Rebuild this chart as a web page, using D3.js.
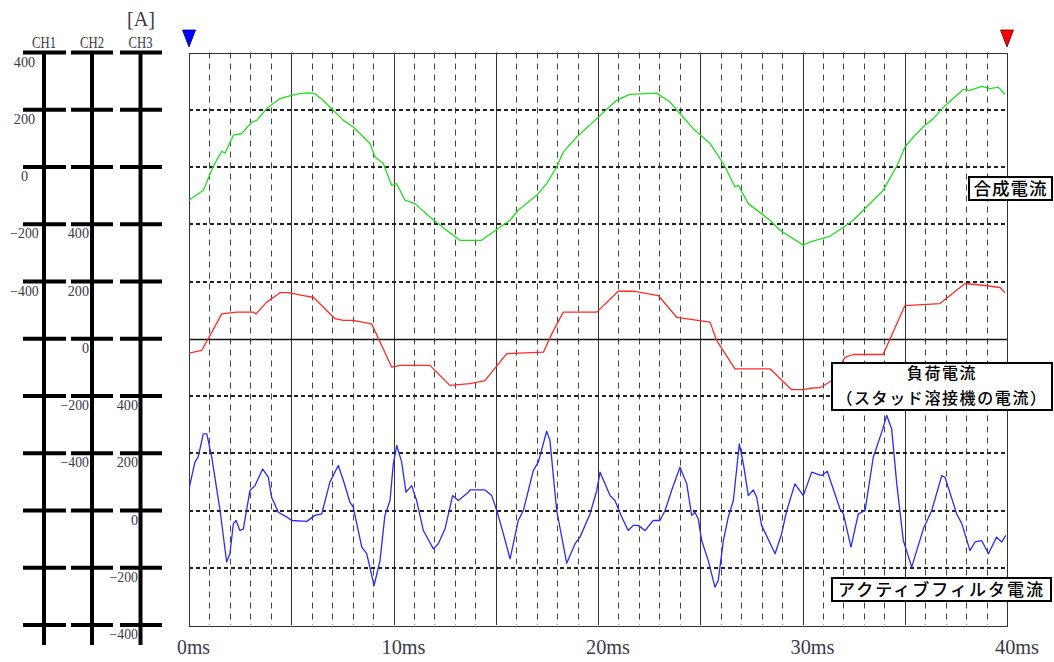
<!DOCTYPE html>
<html lang="ja">
<head>
<meta charset="utf-8">
<title>合成電流・負荷電流・アクティブフィルタ電流</title>
<script src="https://cdn.jsdelivr.net/npm/d3@7"></script>
<style>
  html, body { margin: 0; padding: 0; background: #fff; }
  svg { display: block; }
  .serif { font-family: "Liberation Serif", "DejaVu Serif", serif; fill: #3a3a4a; }
  .jp { font-family: "Noto Sans CJK JP", "Noto Sans", sans-serif; fill: #000; font-weight: 500; }
</style>
</head>
<body>
<svg id="chart" width="1054" height="662"></svg>
<script>
// ---- data ----
const timeTicks = [0, 10, 20, 30, 40];           // ms
const channelNames = ['CH1', 'CH2', 'CH3'];
const ampTicks = [400, 200, 0, -200, -400];       // A

// CH1: composite current [ms, A]
const compositeCurrent = [
  [0, -116], [0.70, -81], [1.19, 3], [1.60, 55], [1.76, 48], [2.17, 111], [2.58, 117],
  [3.07, 157], [3.31, 163], [3.80, 204], [4.45, 239], [5.02, 250], [5.43, 256], [5.80, 259],
  [6.16, 256], [6.56, 233], [7.05, 198], [7.55, 163], [8.03, 140], [8.85, 82], [9.10, 35],
  [9.50, 12], [9.91, -64], [10.15, -58], [10.56, -116], [11.05, -128], [11.78, -175],
  [12.52, -217], [13.25, -256], [14.31, -256], [14.87, -227], [15.70, -186], [16.10, -151],
  [17.00, -99], [17.49, -58], [17.98, 0], [18.30, 52], [18.96, 105], [19.94, 169],
  [20.91, 233], [21.56, 254], [22.87, 258], [23.52, 227], [24.01, 186], [24.66, 134],
  [25.48, 82], [26.13, 12], [26.70, -70], [26.86, -64], [27.35, -128], [28.41, -186],
  [28.90, -221], [30.04, -273], [30.37, -262], [31.34, -242], [32.08, -207], [32.48, -186],
  [32.97, -151], [33.95, -81], [34.61, 3], [35.01, 70], [35.50, 111], [35.99, 146],
  [36.40, 169], [36.89, 209], [37.86, 271], [38.19, 268], [38.76, 282], [39.17, 274],
  [39.57, 279], [39.90, 254]
];

// CH2: load current (stud welder) [ms, A]
const loadCurrent = [
  [0, -50], [0.62, -41], [1.03, 12], [1.60, 87], [2.33, 93], [3.14, 93], [3.28, 87],
  [3.80, 128], [4.45, 161], [4.86, 161], [5.59, 151], [6.08, 145], [7.14, 70], [7.55, 64],
  [8.03, 64], [8.93, 52], [9.91, -99], [10.32, -93], [11.78, -93], [12.76, -163],
  [13.74, -157], [14.47, -146], [15.54, -52], [17.33, -47], [17.74, 17], [18.30, 93],
  [19.94, 93], [20.99, 166], [21.73, 166], [22.95, 151], [23.85, 75], [25.48, 58],
  [25.80, -6], [26.70, -105], [28.41, -105], [29.47, -178], [30.04, -178], [30.37, -173],
  [30.86, -171], [31.44, -146], [32.08, -65], [32.47, -55], [33.94, -55], [35.01, 116],
  [36.72, 123], [37.95, 193], [38.92, 186], [39.66, 179], [39.90, 161]
];

// CH3: active filter current [ms, A]
const filterCurrent = [
  [0, 76], [0.29, 169], [0.45, 187], [0.70, 268], [0.87, 268], [1.11, 187], [1.52, 0],
  [1.84, -180], [2.00, -151], [2.17, -46], [2.30, -35], [2.49, -70], [2.66, -64], [2.98, 70],
  [3.23, 87], [3.60, 145], [3.88, 116], [4.04, 46], [4.37, -6], [4.78, -23], [5.02, -35],
  [5.76, -38], [6.16, -17], [6.49, -12], [6.89, 99], [7.30, 157], [7.55, 105], [7.87, 29],
  [8.03, 12], [8.45, -128], [8.69, -151], [9.05, -262], [9.34, -175], [9.58, -17],
  [9.83, 35], [9.99, 163], [10.16, 227], [10.40, 169], [10.61, 64], [10.89, 87],
  [11.13, 35], [11.46, -70], [11.95, -134], [12.19, -116], [12.52, -64], [12.89, 52],
  [13.17, 35], [13.66, 64], [13.74, 72], [14.47, 72], [14.80, 52], [15.05, 0], [15.37, -81],
  [15.70, -169], [16.10, -35], [16.35, 0], [16.84, 140], [17.08, 169], [17.49, 277],
  [17.65, 244], [17.98, 0], [18.47, -184], [18.88, -116], [19.12, -93], [19.61, -12],
  [19.94, 70], [20.10, 134], [20.59, 52], [20.83, 35], [21.16, -23], [21.48, -70],
  [21.73, -52], [21.97, -52], [22.30, -70], [22.70, -35], [23.03, -35], [23.28, 0],
  [23.60, 70], [24.01, 151], [24.34, 93], [24.58, -17], [24.74, -6], [24.90, -29],
  [25.07, -105], [25.39, -175], [25.72, -268], [25.88, -244], [26.13, -105], [26.37, -23],
  [26.62, 35], [26.91, 233], [27.11, 163], [27.35, 52], [27.59, 72], [27.76, 46],
  [28.00, -52], [28.66, -151], [28.98, -81], [29.23, 0], [29.63, 93], [30.04, 52],
  [30.45, 134], [30.94, 122], [31.21, 137], [31.83, 6], [32.00, -12], [32.37, -128],
  [32.73, -12], [33.06, 0], [33.46, 186], [33.87, 273], [34.12, 332], [34.36, 285],
  [34.61, 93], [34.93, -105], [35.34, -198], [35.91, -64], [36.32, 0], [36.81, 122],
  [36.97, 116], [37.54, -12], [37.79, -46], [38.19, -140], [38.44, -110], [38.76, -105],
  [39.09, -151], [39.49, -93], [39.74, -110], [39.94, -87]
];

// ---- layout ----
const svg = d3.select('#chart');
const plot = { left: 189, right: 1007, top: 52.5, bottom: 625 };
const divisions = 10;           // vertical screen divisions
const ampPerDiv = 200;
const zeroRow = [2, 5, 8];      // division where each channel's 0 A sits

const x = d3.scaleLinear().domain([0, 40]).range([plot.left, plot.right]);
const row = d3.scaleLinear().domain([0, divisions]).range([plot.top, plot.bottom]);
const ampScale = (r) => d3.scaleLinear()
  .domain([r * ampPerDiv, (r - divisions) * ampPerDiv])
  .range([plot.top, plot.bottom]);
const yScales = zeroRow.map(ampScale);

const crisp = v => Math.round(v) + 0.5;

// ---- grid ----
const grid = svg.append('g');

// 1 ms dashed verticals, 5 ms solid ones
d3.range(1, 40).forEach(t => {
  const major = t % 5 === 0;
  grid.append('line')
    .attr('x1', crisp(x(t))).attr('x2', crisp(x(t)))
    .attr('y1', plot.top).attr('y2', plot.bottom)
    .attr('stroke', major ? '#333' : '#444')
    .attr('stroke-width', 1)
    .attr('stroke-dasharray', major ? null : '6,5');
});

// horizontal division lines, CH2 zero line drawn solid
d3.range(1, divisions).forEach(r => {
  const solid = r === 5;
  grid.append('line')
    .attr('x1', plot.left).attr('x2', plot.right)
    .attr('y1', Math.round(row(r)) + (solid ? 0.5 : 0))
    .attr('y2', Math.round(row(r)) + (solid ? 0.5 : 0))
    .attr('stroke', solid ? '#111' : '#222')
    .attr('stroke-width', solid ? 1.5 : 2)
    .attr('stroke-dasharray', solid ? null : '4,3');
});

// frame
grid.append('rect')
  .attr('x', crisp(plot.left)).attr('y', crisp(plot.top))
  .attr('width', Math.round(plot.right - plot.left))
  .attr('height', Math.round(plot.bottom - plot.top))
  .attr('fill', 'none')
  .attr('stroke', '#333')
  .attr('stroke-width', 1);

// ---- waveforms ----
svg.append('clipPath').attr('id', 'plot-clip')
  .append('rect')
  .attr('x', plot.left).attr('y', plot.top)
  .attr('width', plot.right - plot.left).attr('height', plot.bottom - plot.top);

const traces = [
  { data: compositeCurrent, ch: 0, color: '#22dd22' },
  { data: loadCurrent, ch: 1, color: '#ff2a2a' },
  { data: filterCurrent, ch: 2, color: '#2a2aff' }
];

traces.forEach(tr => {
  const line = d3.line()
    .x(d => x(d[0]))
    .y(d => yScales[tr.ch](d[1]));
  svg.append('path')
    .attr('clip-path', 'url(#plot-clip)')
    .attr('d', line(tr.data))
    .attr('fill', 'none')
    .attr('stroke', tr.color)
    .attr('stroke-width', 1.3)
    .attr('stroke-linejoin', 'round');
});

// ---- channel scales on the left ----
const axisX = [44, 92, 140.5];
const tickSpan = [[23, 66], [71, 113], [120, 162]];
const axisBottom = 645;

channelNames.forEach((name, i) => {
  const g = svg.append('g');
  g.append('line')
    .attr('x1', axisX[i]).attr('x2', axisX[i])
    .attr('y1', plot.top).attr('y2', axisBottom)
    .attr('stroke', '#000').attr('stroke-width', 4);

  d3.range(0, divisions + 1).forEach(r => {
    g.append('line')
      .attr('x1', tickSpan[i][0]).attr('x2', tickSpan[i][1])
      .attr('y1', row(r)).attr('y2', row(r))
      .attr('stroke', '#000').attr('stroke-width', 4);
  });

  g.append('text')
    .attr('class', 'serif')
    .attr('x', axisX[i]).attr('y', 48)
    .attr('text-anchor', 'middle')
    .attr('font-size', 16)
    .attr('textLength', 24).attr('lengthAdjust', 'spacingAndGlyphs')
    .text(name);

  ampTicks.forEach(v => {
    const label = v < 0 ? '\u2212' + Math.abs(v) : String(v);
    const t = g.append('text')
      .attr('class', 'serif')
      .attr('y', yScales[i](v) + 14)
      .attr('font-size', 14)
      .attr('textLength', label.length * 7.1)
      .attr('lengthAdjust', 'spacingAndGlyphs')
      .text(label);
    if (i === 0) {
      t.attr('x', 24.5).attr('text-anchor', 'middle');
    } else {
      t.attr('x', tickSpan[i][0] + 18).attr('text-anchor', 'end');
    }
  });
});

svg.append('text')
  .attr('class', 'serif')
  .attr('x', 141).attr('y', 26)
  .attr('text-anchor', 'middle')
  .attr('font-size', 20)
  .attr('textLength', 28).attr('lengthAdjust', 'spacingAndGlyphs')
  .text('[A]');

// ---- time labels ----
timeTicks.forEach(t => {
  const label = t + 'ms';
  svg.append('text')
    .attr('class', 'serif')
    .attr('x', x(t) - 12)
    .attr('y', 654)
    .attr('font-size', 22)
    .attr('textLength', label.length * 11)
    .attr('lengthAdjust', 'spacingAndGlyphs')
    .text(label);
});

// ---- trigger markers ----
[[0, '#0000ff', '#000050'], [40, '#ff0000', '#500000']].forEach(([t, fill, edge]) => {
  const cx = x(t);
  svg.append('path')
    .attr('d', `M${cx - 6.5},30 L${cx + 6.5},30 L${cx},47 Z`)
    .attr('fill', fill)
    .attr('stroke', edge)
    .attr('stroke-width', 0.8);
});

// ---- trace labels ----
function labelBox(x0, y0, w, h, lines, size, spacing) {
  const g = svg.append('g');
  g.append('rect')
    .attr('x', x0).attr('y', y0).attr('width', w).attr('height', h)
    .attr('fill', '#fff').attr('stroke', '#000').attr('stroke-width', 2);
  lines.forEach(ln => {
    g.append('text')
      .attr('class', 'jp')
      .attr('x', x0 + w / 2)
      .attr('y', ln.y)
      .attr('text-anchor', 'middle')
      .attr('font-size', size)
      .attr('letter-spacing', spacing)
      .text(ln.text);
  });
}

labelBox(969, 177, 83, 23, [{ text: '合成電流', y: 195 }], 17.5, 1);
labelBox(832, 363, 220, 47, [
  { text: '負荷電流', y: 379 },
  { text: '（スタッド溶接機の電流）', y: 404 }
], 16, 1.6);
labelBox(832, 578, 219, 23, [{ text: 'アクティブフィルタ電流', y: 596 }], 17, 2);
</script>
</body>
</html>
